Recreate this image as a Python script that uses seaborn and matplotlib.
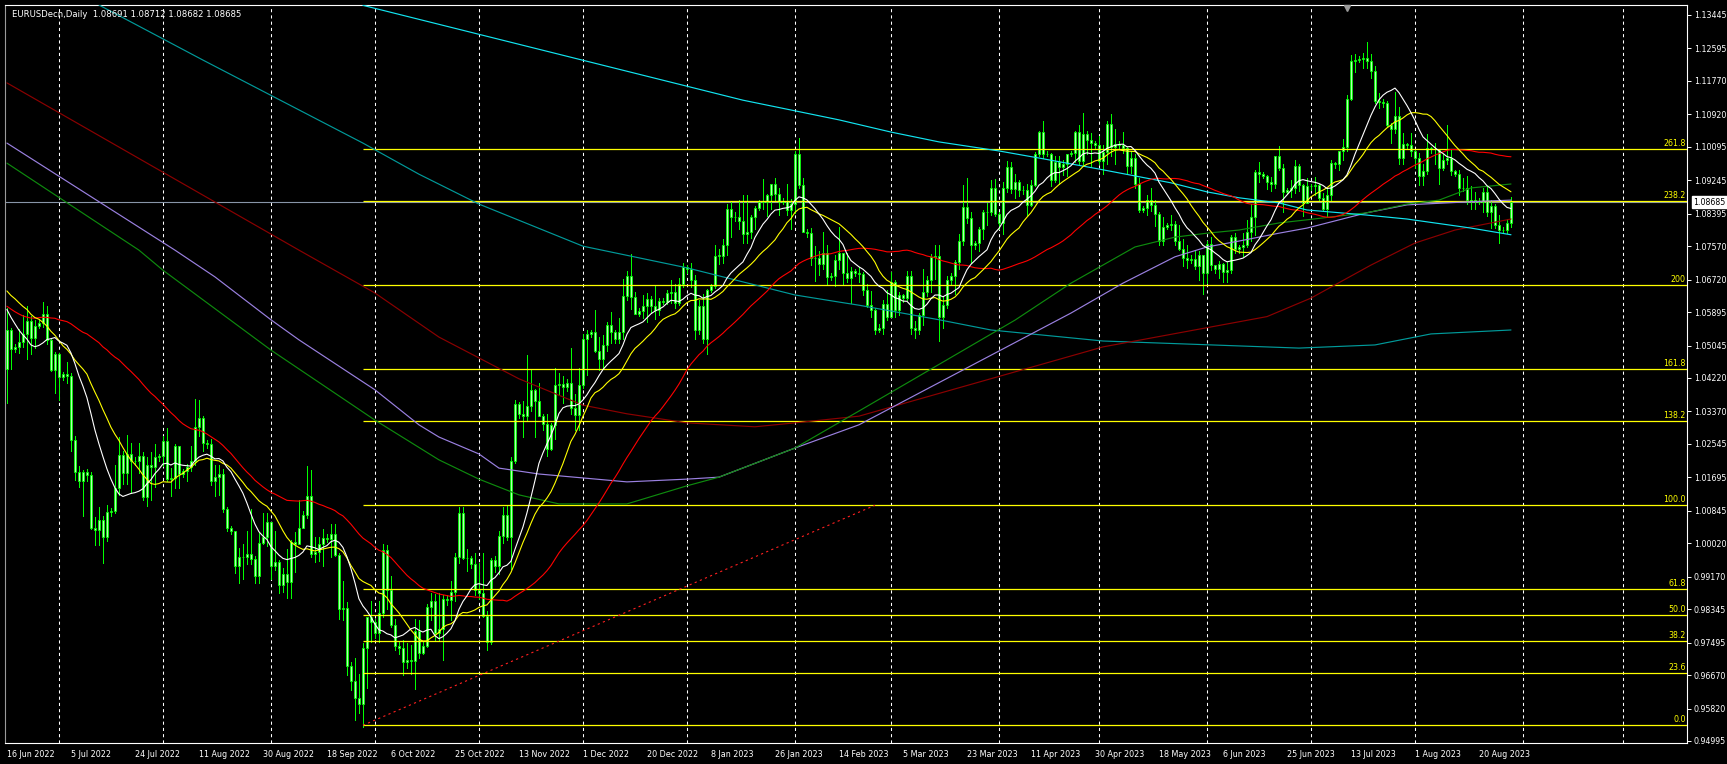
import numpy as np
import pandas as pd
import matplotlib
matplotlib.use("Agg")
import matplotlib.pyplot as plt
import matplotlib.transforms as mtransforms
import seaborn as sns

# EURUSD daily, broker bars Sun..Fri, 16 Jun 2022 .. 29 Aug 2023 (one row per week)
first_open = 1.0445
highs = [
    1.0601, 1.0550,
    1.0508, 1.0546, 1.0583, 1.0606, 1.0580, 1.0570,
    1.0570, 1.0615, 1.0606, 1.0520, 1.0487, 1.0486,
    1.0438, 1.0462, 1.0434, 1.0275, 1.0199, 1.0188,
    1.0190, 1.0184, 1.0069, 1.0094, 1.0072, 1.0098,
    1.0092, 1.0200, 1.0273, 1.0236, 1.0278, 1.0258,
    1.0220, 1.0258, 1.0235, 1.0222, 1.0234, 1.0254,
    1.0230, 1.0274, 1.0294, 1.0192, 1.0253, 1.0250,
    1.0190, 1.0203, 1.0248, 1.0368, 1.0365, 1.0325,
    1.0265, 1.0268, 1.0201, 1.0202, 1.0190, 1.0095,
    1.0045, 1.0034, 0.9990, 0.9999, 1.0034, 1.0090,
    0.9970, 1.0027, 1.0079, 1.0079, 1.0057, 1.0033,
    0.9960, 0.9938, 0.9988, 1.0011, 1.0030, 1.0113,
    1.0085, 1.0198, 1.0187, 1.0019, 1.0018, 1.0037,
    1.0025, 1.0050, 1.0051, 0.9976, 0.9907, 0.9852,
    0.9700, 0.9711, 0.9671, 0.9749, 0.9815, 0.9854,
    0.9810, 0.9854, 0.9999, 0.9998, 0.9919, 0.9810,
    0.9750, 0.9756, 0.9749, 0.9743, 0.9809, 0.9808,
    0.9750, 0.9848, 0.9875, 0.9874, 0.9875, 0.9871,
    0.9870, 0.9907, 0.9977, 1.0093, 1.0094, 0.9987,
    0.9970, 0.9976, 0.9952, 0.9976, 0.9830, 0.9964,
    0.9970, 1.0033, 1.0094, 1.0096, 1.0222, 1.0365,
    1.0360, 1.0364, 1.0481, 1.0442, 1.0394, 1.0410,
    1.0330, 1.0330, 1.0308, 1.0448, 1.0434, 1.0427,
    1.0420, 1.0497, 1.0381, 1.0448, 1.0535, 1.0545,
    1.0545, 1.0595, 1.0525, 1.0530, 1.0564, 1.0590,
    1.0545, 1.0575, 1.0673, 1.0694, 1.0736, 1.0640,
    1.0600, 1.0632, 1.0637, 1.0630, 1.0658, 1.0626,
    1.0625, 1.0645, 1.0670, 1.0660, 1.0675, 1.0714,
    1.0710, 1.0713, 1.0684, 1.0620, 1.0635, 1.0647,
    1.0660, 1.0760, 1.0750, 1.0775, 1.0865, 1.0870,
    1.0845, 1.0874, 1.0887, 1.0888, 1.0835, 1.0860,
    1.0875, 1.0927, 1.0889, 1.0915, 1.0930, 1.0905,
    1.0880, 1.0914, 1.0878, 1.1000, 1.1033, 1.0930,
    1.0800, 1.0803, 1.0757, 1.0745, 1.0792, 1.0760,
    1.0690, 1.0735, 1.0805, 1.0740, 1.0740, 1.0705,
    1.0700, 1.0704, 1.0692, 1.0660, 1.0643, 1.0601,
    1.0560, 1.0619, 1.0646, 1.0691, 1.0670, 1.0640,
    1.0635, 1.0695, 1.0695, 1.0567, 1.0588, 1.0700,
    1.0680, 1.0737, 1.0760, 1.0760, 1.0630, 1.0680,
    1.0690, 1.0722, 1.0787, 1.0912, 1.0930, 1.0845,
    1.0770, 1.0806, 1.0848, 1.0866, 1.0925, 1.0927,
    1.0845, 1.0920, 1.0973, 1.0970, 1.0940, 1.0925,
    1.0910, 1.0915, 1.0925, 1.0997, 1.1050, 1.1075,
    1.1000, 1.0995, 1.0985, 1.0986, 1.0976, 1.0990,
    1.1000, 1.1050, 1.1066, 1.1095, 1.1049, 1.1045,
    1.1025, 1.1038, 1.1015, 1.1075, 1.1092, 1.1054,
    1.1025, 1.1048, 1.1010, 1.1000, 1.0990, 1.0930,
    1.0860, 1.0887, 1.0905, 1.0875, 1.0845, 1.0830,
    1.0815, 1.0835, 1.0820, 1.0812, 1.0775, 1.0760,
    1.0735, 1.0747, 1.0745, 1.0735, 1.0770, 1.0780,
    1.0710, 1.0720, 1.0715, 1.0718, 1.0785, 1.0790,
    1.0760, 1.0790, 1.0823, 1.0865, 1.0950, 1.0970,
    1.0945, 1.0937, 1.0934, 1.0985, 1.1012, 1.0965,
    1.0905, 1.0925, 1.0976, 1.0965, 1.0915, 1.0930,
    1.0915, 1.0934, 1.0915, 1.0892, 1.0905, 1.0975,
    1.0970, 1.1000, 1.1030, 1.1140, 1.1243, 1.1245,
    1.1240, 1.1248, 1.1276, 1.1245, 1.1216, 1.1145,
    1.1130, 1.1125, 1.1070, 1.1149, 1.1110, 1.1044,
    1.1020, 1.1045, 1.1005, 1.0994, 1.0965, 1.1043,
    1.1010, 1.1020, 1.1003, 1.0990, 1.1064, 1.1005,
    1.0950, 1.0950, 1.0930, 1.0935, 1.0909, 1.0895,
    1.0880, 1.0904, 1.0910, 1.0875, 1.0865, 1.0836,
    1.0805, 1.0825, 1.0882,
]
lows = [
    1.0359, 1.0446,
    1.0488, 1.0486, 1.0500, 1.0469, 1.0483, 1.0498,
    1.0550, 1.0552, 1.0508, 1.0441, 1.0383, 1.0365,
    1.0418, 1.0410, 1.0236, 1.0162, 1.0144, 1.0072,
    1.0160, 1.0039, 0.9998, 0.9998, 0.9952, 1.0007,
    1.0072, 1.0080, 1.0125, 1.0152, 1.0153, 1.0130,
    1.0200, 1.0180, 1.0113, 1.0097, 1.0112, 1.0145,
    1.0210, 1.0199, 1.0160, 1.0122, 1.0143, 1.0142,
    1.0170, 1.0160, 1.0185, 1.0202, 1.0274, 1.0236,
    1.0245, 1.0151, 1.0122, 1.0124, 1.0081, 1.0032,
    1.0025, 0.9926, 0.9901, 0.9912, 0.9950, 0.9950,
    0.9900, 0.9900, 1.0000, 0.9994, 0.9910, 0.9934,
    0.9875, 0.9877, 0.9864, 0.9864, 0.9930, 1.0000,
    1.0040, 1.0067, 0.9966, 0.9955, 0.9956, 0.9945,
    1.0005, 0.9966, 0.9970, 0.9810, 0.9807, 0.9668,
    0.9630, 0.9552, 0.9570, 0.9536, 0.9635, 0.9750,
    0.9760, 0.9750, 0.9814, 0.9834, 0.9789, 0.9731,
    0.9720, 0.9668, 0.9684, 0.9670, 0.9632, 0.9711,
    0.9720, 0.9738, 0.9806, 0.9757, 0.9755, 0.9705,
    0.9845, 0.9808, 0.9855, 0.9952, 0.9962, 0.9931,
    0.9940, 0.9871, 0.9860, 0.9815, 0.9730, 0.9745,
    0.9930, 0.9925, 1.0003, 1.0010, 0.9936, 1.0205,
    1.0320, 1.0271, 1.0315, 1.0339, 1.0272, 1.0325,
    1.0290, 1.0223, 1.0240, 1.0266, 1.0379, 1.0359,
    1.0390, 1.0331, 1.0289, 1.0290, 1.0396, 1.0429,
    1.0525, 1.0489, 1.0443, 1.0445, 1.0491, 1.0510,
    1.0510, 1.0510, 1.0520, 1.0621, 1.0597, 1.0585,
    1.0580, 1.0575, 1.0565, 1.0588, 1.0573, 1.0582,
    1.0610, 1.0610, 1.0612, 1.0600, 1.0608, 1.0654,
    1.0690, 1.0654, 1.0520, 1.0535, 1.0510, 1.0483,
    1.0640, 1.0650, 1.0712, 1.0715, 1.0735, 1.0780,
    1.0820, 1.0800, 1.0766, 1.0765, 1.0777, 1.0800,
    1.0850, 1.0852, 1.0833, 1.0851, 1.0871, 1.0836,
    1.0865, 1.0835, 1.0800, 1.0842, 1.0906, 1.0794,
    1.0780, 1.0710, 1.0669, 1.0683, 1.0700, 1.0660,
    1.0670, 1.0655, 1.0700, 1.0660, 1.0665, 1.0613,
    1.0680, 1.0665, 1.0634, 1.0602, 1.0578, 1.0533,
    1.0540, 1.0533, 1.0570, 1.0577, 1.0577, 1.0582,
    1.0615, 1.0620, 1.0535, 1.0524, 1.0535, 1.0556,
    1.0630, 1.0640, 1.0674, 1.0516, 1.0550, 1.0600,
    1.0660, 1.0635, 1.0700, 1.0760, 1.0817, 1.0714,
    1.0750, 1.0745, 1.0775, 1.0810, 1.0837, 1.0834,
    1.0800, 1.0788, 1.0895, 1.0892, 1.0880, 1.0885,
    1.0890, 1.0835, 1.0860, 1.0910, 1.0985, 1.0980,
    1.0985, 1.0910, 1.0920, 1.0915, 1.0937, 1.0935,
    1.0985, 1.0970, 1.0965, 1.0963, 1.0990, 1.0962,
    1.1005, 1.0967, 1.0940, 1.0965, 1.0986, 1.0967,
    1.1005, 1.0993, 1.0942, 1.0942, 1.0905, 1.0845,
    1.0845, 1.0837, 1.0846, 1.0808, 1.0760, 1.0759,
    1.0800, 1.0798, 1.0760, 1.0747, 1.0707, 1.0702,
    1.0715, 1.0700, 1.0672, 1.0635, 1.0663, 1.0696,
    1.0690, 1.0675, 1.0667, 1.0665, 1.0690, 1.0740,
    1.0740, 1.0733, 1.0755, 1.0770, 1.0786, 1.0921,
    1.0930, 1.0903, 1.0898, 1.0905, 1.0950, 1.0845,
    1.0890, 1.0882, 1.0893, 1.0898, 1.0834, 1.0866,
    1.0900, 1.0886, 1.0874, 1.0850, 1.0833, 1.0873,
    1.0955, 1.0950, 1.0975, 1.1000, 1.1128, 1.1200,
    1.1225, 1.1210, 1.1210, 1.1185, 1.1120, 1.1108,
    1.1110, 1.1062, 1.1020, 1.1044, 1.0967, 1.0965,
    1.1005, 1.0985, 1.0955, 1.0912, 1.0912, 1.0940,
    1.0995, 1.0966, 1.0915, 1.0950, 1.0965, 1.0938,
    1.0935, 1.0888, 1.0896, 1.0864, 1.0851, 1.0851,
    1.0865, 1.0843, 1.0833, 1.0802, 1.0804, 1.0766,
    1.0790, 1.0790, 1.0805,
]
closes = [
    1.0545, 1.0495,
    1.0500, 1.0513, 1.0535, 1.0567, 1.0523, 1.0554,
    1.0562, 1.0584, 1.0518, 1.0443, 1.0484, 1.0425,
    1.0432, 1.0426, 1.0265, 1.0182, 1.0161, 1.0183,
    1.0175, 1.0040, 1.0036, 1.0062, 1.0019, 1.0081,
    1.0085, 1.0142, 1.0226, 1.0180, 1.0230, 1.0212,
    1.0210, 1.0223, 1.0120, 1.0201, 1.0196, 1.0220,
    1.0225, 1.0261, 1.0165, 1.0169, 1.0248, 1.0179,
    1.0185, 1.0196, 1.0210, 1.0298, 1.0320, 1.0258,
    1.0255, 1.0160, 1.0170, 1.0178, 1.0088, 1.0040,
    1.0033, 0.9944, 0.9968, 0.9967, 0.9974, 0.9963,
    0.9920, 1.0003, 1.0017, 1.0056, 0.9943, 0.9954,
    0.9895, 0.9923, 0.9903, 1.0005, 1.0001, 1.0042,
    1.0075, 1.0123, 0.9975, 0.9980, 0.9999, 1.0015,
    1.0012, 1.0025, 0.9971, 0.9835, 0.9838, 0.9690,
    0.9652, 0.9608, 0.9593, 0.9736, 0.9815, 0.9802,
    0.9775, 0.9825, 0.9986, 0.9883, 0.9795, 0.9740,
    0.9735, 0.9700, 0.9706, 0.9703, 0.9779, 0.9724,
    0.9742, 0.9839, 0.9854, 0.9774, 0.9784, 0.9860,
    0.9858, 0.9878, 0.9966, 1.0079, 0.9965, 0.9965,
    0.9950, 0.9883, 0.9875, 0.9817, 0.9750, 0.9960,
    0.9945, 1.0020, 1.0073, 1.0018, 1.0210, 1.0355,
    1.0330, 1.0325, 1.0350, 1.0391, 1.0363, 1.0325,
    1.0305, 1.0242, 1.0302, 1.0405, 1.0408, 1.0400,
    1.0410, 1.0346, 1.0328, 1.0404, 1.0522, 1.0535,
    1.0540, 1.0490, 1.0470, 1.0506, 1.0556, 1.0538,
    1.0520, 1.0538, 1.0630, 1.0682, 1.0627, 1.0585,
    1.0592, 1.0606, 1.0623, 1.0604, 1.0595, 1.0617,
    1.0615, 1.0638, 1.0640, 1.0612, 1.0660, 1.0704,
    1.0700, 1.0671, 1.0545, 1.0606, 1.0520, 1.0645,
    1.0655, 1.0733, 1.0733, 1.0760, 1.0852, 1.0832,
    1.0830, 1.0821, 1.0789, 1.0793, 1.0830, 1.0855,
    1.0870, 1.0870, 1.0886, 1.0915, 1.0890, 1.0870,
    1.0872, 1.0848, 1.0863, 1.0990, 1.0912, 1.0794,
    1.0790, 1.0726, 1.0727, 1.0711, 1.0740, 1.0678,
    1.0680, 1.0722, 1.0739, 1.0688, 1.0676, 1.0695,
    1.0690, 1.0687, 1.0646, 1.0607, 1.0595, 1.0545,
    1.0550, 1.0610, 1.0576, 1.0667, 1.0596, 1.0633,
    1.0625, 1.0682, 1.0548, 1.0545, 1.0582, 1.0640,
    1.0670, 1.0730, 1.0733, 1.0577, 1.0608, 1.0670,
    1.0680, 1.0718, 1.0770, 1.0856, 1.0829, 1.0760,
    1.0765, 1.0800, 1.0843, 1.0845, 1.0905, 1.0839,
    1.0815, 1.0904, 1.0957, 1.0903, 1.0921, 1.0900,
    1.0900, 1.0861, 1.0913, 1.0992, 1.1046, 1.0992,
    1.0990, 1.0925, 1.0972, 1.0957, 1.0966, 1.0990,
    1.0995, 1.1048, 1.0974, 1.1041, 1.1028, 1.1020,
    1.1015, 1.0973, 1.0997, 1.1067, 1.1010, 1.1017,
    1.1015, 1.1006, 1.0962, 1.0982, 1.0915, 1.0850,
    1.0855, 1.0874, 1.0862, 1.0839, 1.0771, 1.0805,
    1.0810, 1.0814, 1.0771, 1.0751, 1.0726, 1.0723,
    1.0725, 1.0706, 1.0735, 1.0688, 1.0762, 1.0708,
    1.0700, 1.0712, 1.0691, 1.0697, 1.0781, 1.0750,
    1.0755, 1.0761, 1.0792, 1.0832, 1.0945, 1.0940,
    1.0935, 1.0921, 1.0915, 1.0987, 1.0955, 1.0895,
    1.0900, 1.0906, 1.0961, 1.0912, 1.0867, 1.0910,
    1.0910, 1.0912, 1.0880, 1.0852, 1.0888, 1.0968,
    1.0965, 1.0998, 1.1009, 1.1130, 1.1228, 1.1230,
    1.1232, 1.1236, 1.1228, 1.1201, 1.1127, 1.1124,
    1.1120, 1.1064, 1.1056, 1.1087, 1.0981, 1.1016,
    1.1015, 1.0998, 1.0980, 1.0936, 1.0947, 1.1006,
    1.1005, 1.1003, 1.0956, 1.0975, 1.0982, 1.0947,
    1.0940, 1.0904, 1.0905, 1.0875, 1.0873, 1.0873,
    1.0870, 1.0894, 1.0845, 1.0860, 1.0810, 1.0797,
    1.0798, 1.0817, 1.0869,
]
# closes before 16 Jun 2022, only used to warm up the moving averages
closes_before = [
    1.0853, 1.0837, 1.0797, 1.0790, 1.0716, 1.0640, 1.0560, 1.0497, 1.0545, 1.0540,
    1.0509, 1.0520, 1.0621, 1.0540, 1.0550, 1.0540, 1.0560, 1.0530, 1.0514, 1.0380,
    1.0410, 1.0405, 1.0436, 1.0552, 1.0464, 1.0585, 1.0562, 1.0565, 1.0690, 1.0734,
    1.0677, 1.0724, 1.0733, 1.0730, 1.0778, 1.0734, 1.0648, 1.0750, 1.0718, 1.0720,
    1.0695, 1.0705, 1.0715, 1.0615, 1.0520, 1.0500, 1.0407, 1.0415, 1.0445,
]

# slow averages (bar index, price)
green_bars = [0, 33, 39, 66, 92, 108, 118, 128, 138, 155, 170, 178, 197, 213, 252, 266, 282, 292, 300, 308, 318, 325, 340, 350, 358, 366, 376]
green_vals = [1.0968, 1.0747, 1.0696, 1.0493, 1.0315, 1.0214, 1.0165, 1.0125, 1.0102, 1.0102, 1.0148, 1.0170, 1.0244, 1.0338, 1.0569, 1.0663, 1.0755, 1.0780, 1.0790, 1.0798, 1.0816, 1.0824, 1.0842, 1.0864, 1.0874, 1.0905, 1.0915]
purple_bars = [0, 42, 52, 66, 73, 92, 103, 108, 118, 123, 133, 155, 170, 178, 197, 213, 266, 279, 292, 300, 308, 318, 325, 340, 350, 366, 376]
purple_vals = [1.1019, 1.0747, 1.0679, 1.0570, 1.0519, 1.0392, 1.0303, 1.0272, 1.0229, 1.0193, 1.0178, 1.0158, 1.0165, 1.0170, 1.0244, 1.0303, 1.0587, 1.0663, 1.0730, 1.0755, 1.0770, 1.0790, 1.0803, 1.0842, 1.0862, 1.0870, 1.0874]
darkred_bars = [0, 73, 92, 108, 128, 144, 155, 170, 187, 197, 213, 274, 315, 326, 341, 352, 362, 376]
darkred_vals = [1.1172, 1.0747, 1.0638, 1.0526, 1.0420, 1.0353, 1.0331, 1.0308, 1.0298, 1.0308, 1.0325, 1.0501, 1.0578, 1.0625, 1.0709, 1.0765, 1.0798, 1.0826]
cyan_bars = [89, 184, 197, 208, 221, 233, 248, 258, 273, 291, 300, 308, 318, 325, 340, 350, 366, 376]
cyan_vals = [1.1369, 1.1128, 1.1101, 1.1078, 1.1047, 1.1022, 1.0999, 1.0981, 1.0953, 1.0918, 1.0895, 1.0880, 1.0867, 1.0849, 1.0836, 1.0826, 1.0803, 1.0786]
teal_bars = [23, 49, 89, 103, 118, 144, 170, 197, 208, 213, 233, 246, 274, 323, 342, 356, 376]
teal_vals = [1.1370, 1.1230, 1.1019, 1.0940, 1.0864, 1.0757, 1.0702, 1.0633, 1.0615, 1.0607, 1.0570, 1.0544, 1.0516, 1.0498, 1.0506, 1.0534, 1.0544]

# fibonacci retracement
fib_levels = [0.0, 23.6, 38.2, 50.0, 61.8, 100.0, 138.2, 161.8, 200.0, 238.2, 261.8]
fib_names = ["0.0", "23.6", "38.2", "50.0", "61.8", "100.0", "138.2", "161.8", "200", "238.2", "261.8"]
fib_low, fib_high = 0.95394, 1.00985
fib_start_bar, fib_end_bar = 89, 217

price_ticks = [1.13445, 1.12595, 1.11770, 1.10920, 1.10095, 1.09245, 1.08395, 1.07570,
               1.06720, 1.05895, 1.05045, 1.04220, 1.03370, 1.02545, 1.01695, 1.00845,
               1.00020, 0.99170, 0.98345, 0.97495, 0.96670, 0.95820, 0.94995]
date_labels = ["16 Jun 2022", "5 Jul 2022", "24 Jul 2022", "11 Aug 2022", "30 Aug 2022",
               "18 Sep 2022", "6 Oct 2022", "25 Oct 2022", "13 Nov 2022", "1 Dec 2022",
               "20 Dec 2022", "8 Jan 2023", "26 Jan 2023", "14 Feb 2023", "5 Mar 2023",
               "23 Mar 2023", "11 Apr 2023", "30 Apr 2023", "18 May 2023", "6 Jun 2023",
               "25 Jun 2023", "13 Jul 2023", "1 Aug 2023", "20 Aug 2023"]
header = "EURUSDecn,Daily  1.08691 1.08712 1.08682 1.08685"
bid = 1.08685

sns.set_style("dark", {"axes.facecolor": "black", "figure.facecolor": "black"})
plt.rcParams["font.family"] = ["DejaVu Sans"]

# broker calendar: no Saturday bars
days = pd.date_range("2022-06-16", "2023-10-31", freq="D")
days = days[days.dayofweek != 5]
n = len(closes)
x = np.arange(n)
opens = np.array([first_open] + closes[:-1])
c = np.array(closes)

fig = plt.figure(figsize=(17.27, 7.64), dpi=100)
ax = fig.add_axes([4.5 / 1727, 21 / 764, 1682.5 / 1727, 738 / 764])
ax.set_facecolor("black")
xmax = 420.0
ax.set_xlim(-0.6, xmax)
ax.set_ylim(0.94944, 1.13699)

# month grid
month_start = [i for i in range(1, len(days)) if days[i].month != days[i - 1].month and i < xmax]
for i in month_start:
    ax.axvline(i, color="white", lw=0.75, ls=(0, (3, 3)), zorder=1)

# bid line
ax.axhline(bid, color="#8895a8", lw=0.8, zorder=1.5)

# candles
lime = "#00ff00"
ax.vlines(x, lows, highs, color=lime, lw=0.72, zorder=3, antialiased=False)
body_lo = np.minimum(opens, c)
body_h = np.maximum(np.abs(c - opens), 0.00007)
ax.bar(x, body_h, bottom=body_lo, width=0.52, facecolor="#b4ffb4", edgecolor=lime,
       linewidth=0.6, zorder=4)

# fibo
fib_prices = [fib_low + (fib_high - fib_low) * lv / 100 for lv in fib_levels]
ax.hlines(fib_prices, fib_start_bar, xmax, color="#ffff00", lw=0.9, zorder=5)
for p, name in zip(fib_prices, fib_names):
    ax.text(xmax - 0.3, p + 0.00035, name, color="#ffff00", fontsize=5.7,
            ha="right", va="bottom", zorder=6)
ax.plot([fib_start_bar, fib_end_bar], [fib_low, fib_high], color="#ff2020",
        lw=0.8, ls=(0, (2, 3)), zorder=5)

# moving averages
all_c = pd.Series(closes_before + closes)
k = len(closes_before)
sma13 = all_c.rolling(13).mean().iloc[k:].to_numpy()
sma21 = all_c.rolling(21).mean().iloc[k:].to_numpy()
sma50 = all_c.rolling(50).mean().iloc[k:].to_numpy()

slow = [(teal_bars, teal_vals, "#009a9a"), (darkred_bars, darkred_vals, "#8b0000"),
        (purple_bars, purple_vals, "#9a80e0"), (green_bars, green_vals, "#0e8a0e"),
        (cyan_bars, cyan_vals, "#12e4f0")]
for bx, by, col in slow:
    sns.lineplot(x=bx, y=by, color=col, lw=0.85, ax=ax, sort=False, estimator=None, zorder=6)
for ma, col in [(sma50, "#ff0000"), (sma21, "#ffff00"), (sma13, "#ffffff")]:
    sns.lineplot(x=x, y=ma, color=col, lw=0.8, ax=ax, sort=False, estimator=None, zorder=7)

# axes cosmetics
ax.set_xlabel("")
ax.set_ylabel("")
for s in ax.spines.values():
    s.set_color("white")
    s.set_linewidth(0.8)
ax.spines["left"].set_color("#9a9a9a")

ax.yaxis.tick_right()
ax.set_yticks(price_ticks)
ax.set_yticklabels([f"{p:.5f}" for p in price_ticks])
ax.tick_params(axis="y", which="both", right=True, left=False, labelright=True, labelleft=False,
               direction="out", length=3, width=0.7, colors="white", labelsize=5.7, pad=2)

label_pos = [int(np.searchsorted(days, pd.to_datetime(d, format="%d %b %Y"))) for d in date_labels]
ax.set_xticks(label_pos)
ax.set_xticklabels(date_labels)
ax.tick_params(axis="x", direction="out", length=3, width=0.7, colors="white", labelsize=5.8, pad=2)
for t in ax.get_xticklabels():
    t.set_ha("left")
ax.grid(False)

blend = mtransforms.blended_transform_factory(ax.transAxes, ax.transData)
ax.text(1.0036, bid, f"{bid:.5f}", transform=blend, ha="left", va="center", fontsize=5.7,
        color="black", zorder=10, clip_on=False,
        bbox=dict(facecolor="white", edgecolor="white", pad=1.0))
ax.text(0.0043, 0.9878, header, transform=ax.transAxes, ha="left", va="center",
        fontsize=6.1, color="white", zorder=10)
ax.plot([335], [1.1362], marker="v", color="#9a9a9a", ms=4.5, zorder=10, clip_on=False)

fig.savefig("out.png", dpi=100, facecolor="black")
